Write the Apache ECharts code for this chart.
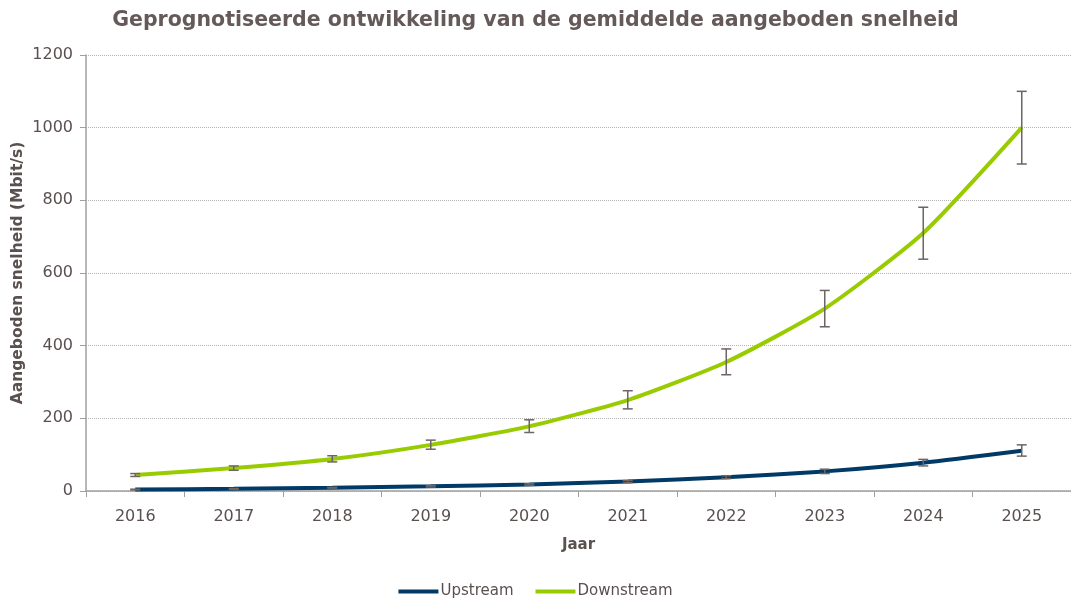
<!DOCTYPE html>
<html>
<head>
<meta charset="utf-8">
<script src="https://cdn.jsdelivr.net/npm/echarts@6/dist/echarts.min.js"></script>
<style>
  html, body { margin: 0; padding: 0; background: #fff; }
  #chart { width: 1071px; height: 598px; }
</style>
</head>
<body>
<div id="chart"></div>
<script>
// jaren en geschatte waarden (Mbit/s)
const years = ['2016', '2017', '2018', '2019', '2020', '2021', '2022', '2023', '2024', '2025'];
const upstream = [4, 6, 9, 13, 18, 26, 38, 54, 78, 111];
const downstream = [44, 63, 88, 127, 178, 250, 355, 502, 710, 1000];
// foutmarges (onder / boven)
const upLow = [3, 5, 8, 11, 16, 23, 34, 48, 69, 96];
const upHigh = [5, 7, 10, 15, 20, 29, 42, 60, 87, 127];
const downLow = [40, 57, 80, 115, 161, 226, 320, 452, 638, 900];
const downHigh = [48, 69, 97, 140, 196, 276, 391, 552, 781, 1100];

const textColor = '#5a5050';

function errorBars(low, high) {
    return years.map((y, i) => [i, low[i], high[i]]);
}

function renderError(params, api) {
    const x = api.value(0);
    const lo = api.coord([x, api.value(1)]);
    const hi = api.coord([x, api.value(2)]);
    const w = 5;
    const style = { stroke: '#6e6464', lineWidth: 1.5 };
    return {
        type: 'group',
        children: [
            { type: 'line', shape: { x1: lo[0], y1: lo[1], x2: hi[0], y2: hi[1] }, style: style },
            { type: 'line', shape: { x1: lo[0] - w, y1: lo[1], x2: lo[0] + w, y2: lo[1] }, style: style },
            { type: 'line', shape: { x1: hi[0] - w, y1: hi[1], x2: hi[0] + w, y2: hi[1] }, style: style }
        ]
    };
}

let myChart = echarts.init(document.getElementById('chart'));
let option = {
    animation: false,
    textStyle: { fontFamily: 'DejaVu Sans' },
    title: {
        text: 'Geprognotiseerde ontwikkeling van de gemiddelde aangeboden snelheid',
        left: 'center',
        top: 5,
        textStyle: { fontSize: 20.5, fontWeight: 'bold', color: '#65595a', fontFamily: 'DejaVu Sans' }
    },
    legend: {
        top: 579,
        left: 'center',
        itemWidth: 40,
        itemHeight: 4,
        itemGap: 22,
        textStyle: { fontSize: 15, color: textColor, padding: [0, 0, 0, -3] },
        data: [
            { name: 'Upstream', icon: 'rect' },
            { name: 'Downstream', icon: 'rect' }
        ]
    },
    grid: { left: 86, right: 0, top: 55, bottom: 107, outerBoundsMode: 'none' },
    xAxis: {
        type: 'category',
        data: years,
        boundaryGap: true,
        name: 'Jaar',
        nameLocation: 'center',
        nameGap: 47,
        nameTextStyle: { fontSize: 15, fontWeight: 'bold', color: textColor },
        axisLine: { lineStyle: { color: '#a0a0a0', width: 1.5 } },
        axisTick: { show: true, length: 6, lineStyle: { color: '#a0a0a0' } },
        axisLabel: { fontSize: 16, color: textColor, margin: 18 }
    },
    yAxis: {
        type: 'value',
        min: 0,
        max: 1200,
        interval: 200,
        name: 'Aangeboden snelheid (Mbit/s)',
        nameLocation: 'center',
        nameGap: 60,
        nameMoveOverlap: false,
        nameTextStyle: { fontSize: 15.5, fontWeight: 'bold', color: textColor },
        axisLine: { show: true, lineStyle: { color: '#a0a0a0', width: 1.5 } },
        axisTick: { show: true, length: 6, lineStyle: { color: '#a0a0a0' } },
        axisLabel: { fontSize: 16, color: textColor, margin: 13, formatter: v => String(v) },
        splitLine: { lineStyle: { color: '#b4b4b4', type: [1, 1], width: 1 } }
    },
    series: [
        {
            name: 'Upstream',
            type: 'line',
            data: upstream,
            smooth: 0.2,
            showSymbol: false,
            color: '#013a66',
            lineStyle: { width: 4 }
        },
        {
            name: 'Downstream',
            type: 'line',
            data: downstream,
            smooth: 0.2,
            showSymbol: false,
            color: '#99cc00',
            lineStyle: { width: 4 }
        },
        {
            type: 'custom',
            renderItem: renderError,
            data: errorBars(upLow, upHigh),
            encode: { x: 0, y: [1, 2] },
            z: 5
        },
        {
            type: 'custom',
            renderItem: renderError,
            data: errorBars(downLow, downHigh),
            encode: { x: 0, y: [1, 2] },
            z: 5
        }
    ]
};
myChart.setOption(option);
</script>
</body>
</html>
